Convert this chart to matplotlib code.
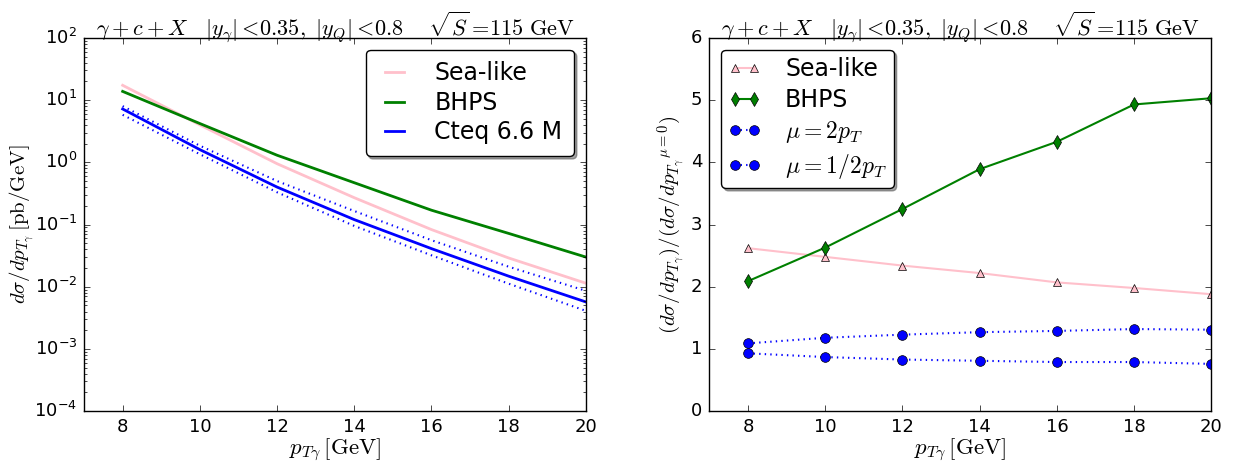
import numpy as np
import matplotlib
matplotlib.use("Agg")
import matplotlib.pyplot as plt

plt.style.use("classic")
plt.rcParams["figure.facecolor"] = "white"
plt.rcParams["savefig.facecolor"] = "white"
plt.rcParams["mathtext.fontset"] = "cm"

# left panel: cross sections (pb/GeV)
pt = [8, 10, 12, 14, 16, 18, 20]
sea = [17.3, 4.0, 0.95, 0.27, 0.083, 0.029, 0.0114]
bhps = [13.8, 4.2, 1.3, 0.47, 0.17, 0.072, 0.030]
cteq = [7.2, 1.6, 0.40, 0.12, 0.041, 0.0148, 0.0057]
cteq_hi = [8.0, 1.85, 0.50, 0.165, 0.056, 0.021, 0.0086]
cteq_lo = [5.8, 1.35, 0.33, 0.095, 0.032, 0.0112, 0.0041]

# right panel: ratios
r_sea = [2.62, 2.48, 2.34, 2.22, 2.07, 1.98, 1.88]
r_bhps = [2.09, 2.63, 3.25, 3.89, 4.33, 4.93, 5.03]
r_mu2 = [1.09, 1.18, 1.23, 1.27, 1.29, 1.32, 1.31]
r_mu05 = [0.93, 0.87, 0.83, 0.81, 0.79, 0.79, 0.76]

title = (r"$\gamma+c+X\quad |y_\gamma|<\!0.35,\ |y_Q|<\!0.8\quad"
         r"\ \sqrt{S}=\!115\ \mathrm{GeV}$")
xlab = r"$p_{T\gamma}\,[\mathrm{GeV}]$"

fig = plt.figure(figsize=(12.36, 4.62), dpi=100)
ax1 = fig.add_axes([0.068, 0.110, 0.406, 0.808])
ax2 = fig.add_axes([0.574, 0.110, 0.406, 0.808])

ax1.plot(pt, sea, color="pink", lw=2, label="Sea-like")
ax1.plot(pt, bhps, color="green", lw=2, label="BHPS")
ax1.plot(pt, cteq, color="blue", lw=2, label="Cteq 6.6 M")
ax1.plot(pt, cteq_hi, color="blue", lw=1.5, ls=":")
ax1.plot(pt, cteq_lo, color="blue", lw=1.5, ls=":")
ax1.set_yscale("log")
ax1.set_xlim(7, 20)
ax1.set_ylim(1e-4, 1e2)
ax1.set_xticks([8, 10, 12, 14, 16, 18, 20])
ax1.set_xlabel(xlab, fontsize=16.5, labelpad=0)
ax1.set_ylabel(r"$d\sigma/dp_{T_\gamma}\,[\mathrm{pb/GeV}]$", fontsize=15,
               labelpad=-1)
ax1.set_title(title, fontsize=16, pad=2)
ax1.legend(loc="upper right", fontsize=17, fancybox=True, shadow=True,
           handlelength=1.4, handletextpad=1.0, labelspacing=0.23,
           borderpad=0.5)

ax2.plot(pt, r_sea, color="pink", lw=1.5, marker="^", mfc="pink", mec="k",
         ms=6, label="Sea-like")
ax2.plot(pt, r_bhps, color="green", lw=1.5, marker="d", mfc="green", mec="k",
         ms=7, label="BHPS")
ax2.plot(pt, r_mu2, color="blue", lw=1.5, ls=":", marker="o", mfc="blue",
         mec="k", ms=7, label=r"$\mu=2p_T$")
ax2.plot(pt, r_mu05, color="blue", lw=1.5, ls=":", marker="o", mfc="blue",
         mec="k", ms=7, label=r"$\mu=1/2p_T$")
ax2.set_xlim(7, 20)
ax2.set_ylim(0, 6)
ax2.set_xticks([8, 10, 12, 14, 16, 18, 20])
ax2.set_xlabel(xlab, fontsize=16.5, labelpad=0)
ax2.set_ylabel(r"$(d\sigma/dp_{T_\gamma})/(d\sigma/{dp_{T_\gamma}}^{\mu=0})$",
               fontsize=15, labelpad=2)
ax2.set_title(title, fontsize=16, pad=2)
ax2.legend(loc="upper left", fontsize=17, fancybox=True, shadow=True,
           numpoints=2, handlelength=1.4, handletextpad=1.0,
           labelspacing=0.3, borderpad=0.3)

for ax in (ax1, ax2):
    ax.tick_params(labelsize=13, pad=5)

fig.savefig("out.png", dpi=100)
